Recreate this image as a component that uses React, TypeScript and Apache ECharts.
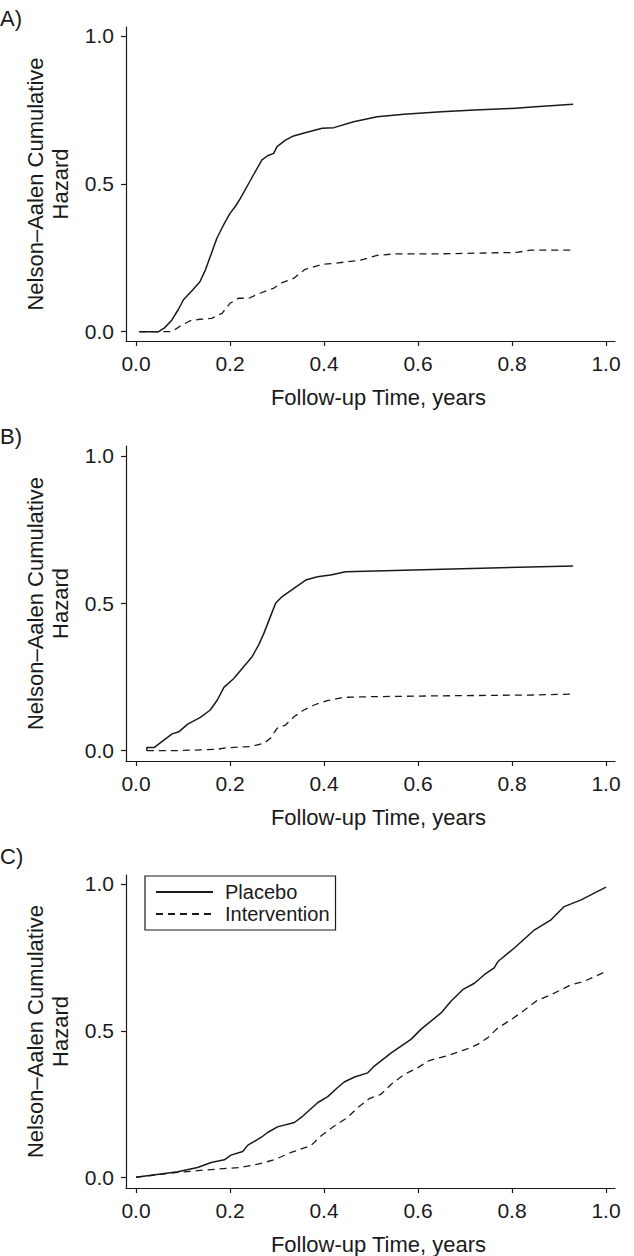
import React, { useEffect, useRef } from "react";
import * as echarts from "echarts";

// ---- data ----
const xTicks = [0, 0.2, 0.4, 0.6, 0.8, 1.0];
const yTicks = [0, 0.5, 1.0];
const panelLabels = ["A)", "B)", "C)"];
const seriesNames = ["Placebo", "Intervention"];

const panelAPlacebo = [
  [0.007, 0], [0.048, 0], [0.06, 0.012], [0.076, 0.039], [0.09, 0.075], [0.101, 0.108],
  [0.12, 0.14], [0.136, 0.169], [0.148, 0.21], [0.158, 0.254], [0.172, 0.316], [0.186, 0.36],
  [0.2, 0.4], [0.212, 0.425], [0.222, 0.451], [0.24, 0.502], [0.255, 0.545], [0.268, 0.581],
  [0.28, 0.595], [0.293, 0.603], [0.3, 0.626], [0.318, 0.648], [0.335, 0.662], [0.36, 0.673],
  [0.396, 0.688], [0.421, 0.69], [0.463, 0.71], [0.513, 0.727], [0.57, 0.735], [0.65, 0.744],
  [0.72, 0.75], [0.8, 0.755], [0.85, 0.761], [0.93, 0.769],
];
const panelAIntervention = [
  [0.007, 0], [0.076, 0], [0.095, 0.02], [0.115, 0.037], [0.136, 0.042], [0.161, 0.045],
  [0.183, 0.062], [0.2, 0.096], [0.218, 0.113], [0.24, 0.113], [0.264, 0.13], [0.293, 0.147],
  [0.311, 0.166], [0.335, 0.18], [0.36, 0.211], [0.396, 0.228], [0.421, 0.231], [0.478, 0.242],
  [0.513, 0.258], [0.549, 0.263], [0.634, 0.263], [0.81, 0.268], [0.84, 0.276], [0.93, 0.276],
];
const panelBPlacebo = [
  [0.023, 0], [0.023, 0.011], [0.039, 0.011], [0.055, 0.031], [0.077, 0.057], [0.091, 0.064],
  [0.11, 0.09], [0.137, 0.113], [0.158, 0.138], [0.173, 0.172], [0.187, 0.215], [0.208, 0.245],
  [0.229, 0.285], [0.247, 0.319], [0.261, 0.359], [0.272, 0.398], [0.283, 0.443], [0.297, 0.5],
  [0.311, 0.523], [0.336, 0.551], [0.361, 0.579], [0.386, 0.59], [0.414, 0.596], [0.446, 0.607],
  [0.93, 0.627],
];
const panelBIntervention = [
  [0.023, 0], [0.087, 0], [0.173, 0.005], [0.194, 0.01], [0.244, 0.014], [0.272, 0.025],
  [0.286, 0.042], [0.3, 0.076], [0.318, 0.087], [0.336, 0.115], [0.357, 0.138], [0.379, 0.155],
  [0.407, 0.17], [0.442, 0.181], [0.492, 0.183], [0.634, 0.186], [0.847, 0.189], [0.93, 0.192],
];
const panelCPlacebo = [
  [0, 0.002], [0.089, 0.02], [0.131, 0.035], [0.16, 0.052], [0.188, 0.061], [0.202, 0.077],
  [0.227, 0.089], [0.238, 0.111], [0.266, 0.137], [0.28, 0.154], [0.301, 0.173], [0.337, 0.188],
  [0.355, 0.21], [0.387, 0.256], [0.408, 0.276], [0.429, 0.307], [0.443, 0.326], [0.465, 0.343],
  [0.493, 0.357], [0.507, 0.38], [0.543, 0.425], [0.585, 0.471], [0.606, 0.505], [0.649, 0.561],
  [0.67, 0.601], [0.695, 0.64], [0.72, 0.662], [0.741, 0.691], [0.762, 0.714], [0.77, 0.736],
  [0.805, 0.782], [0.848, 0.844], [0.883, 0.878], [0.911, 0.923], [0.947, 0.946], [1.0, 0.989],
];
const panelCIntervention = [
  [0, 0.002], [0.089, 0.018], [0.152, 0.027], [0.223, 0.035], [0.259, 0.046], [0.294, 0.061],
  [0.33, 0.086], [0.372, 0.109], [0.394, 0.143], [0.422, 0.176], [0.45, 0.205], [0.472, 0.239],
  [0.496, 0.269], [0.521, 0.284], [0.543, 0.318], [0.571, 0.352], [0.599, 0.374], [0.624, 0.399],
  [0.663, 0.416], [0.702, 0.437], [0.727, 0.454], [0.748, 0.476], [0.77, 0.51], [0.798, 0.538],
  [0.826, 0.57], [0.851, 0.601], [0.883, 0.623], [0.926, 0.657], [0.954, 0.669], [1.0, 0.702],
];

const panels = [
  { placebo: panelAPlacebo, intervention: panelAIntervention },
  { placebo: panelBPlacebo, intervention: panelBIntervention },
  { placebo: panelCPlacebo, intervention: panelCIntervention },
];

// ---- layout / style ----
const FONT = "'Liberation Sans', Arial, Helvetica, sans-serif";
const INK = "#1a1a1a";
const grids = [
  { left: 126, top: 27, width: 489, height: 314, ymin: -0.0315, ymax: 1.0304, labelTop: 7 },
  { left: 126, top: 446, width: 489, height: 315, ymin: -0.035, ymax: 1.0339, labelTop: 425 },
  { left: 126, top: 875, width: 489, height: 314, ymin: -0.035, ymax: 1.0305, labelTop: 845 },
];

export default function App() {
  const ref = useRef<HTMLDivElement>(null);
  useEffect(() => {
    document.body.style.margin = "0";
    if (!ref.current) return;
    const chart = echarts.init(ref.current, null, { renderer: "svg" });
    const axisLine = { onZero: false, lineStyle: { color: INK, width: 1.2 } };
    const axisTickBase = { show: true, inside: false, length: 5, lineStyle: { color: INK, width: 1.2 } };
    const option: any = {
      animation: false,
      backgroundColor: "#ffffff",
      textStyle: { fontFamily: FONT, color: INK },
      grid: grids.map((g) => ({ left: g.left, top: g.top, width: g.width, height: g.height, containLabel: false })),
      xAxis: grids.map((g, i) => ({
        type: "value",
        gridIndex: i,
        min: -0.0213,
        max: 1.0191,
        axisLine,
        axisTick: { ...axisTickBase, customValues: xTicks },
        splitLine: { show: false },
        axisLabel: {
          customValues: xTicks,
          formatter: (v: number) => v.toFixed(1),
          fontSize: 21,
          fontFamily: FONT,
          color: INK,
          margin: 12,
        },
        name: "Follow-up Time, years",
        nameLocation: "middle",
        nameGap: 45,
        nameTextStyle: { fontSize: 22, fontFamily: FONT, color: INK, padding: [0, 0, 0, 16] },
      })),
      yAxis: grids.map((g, i) => ({
        type: "value",
        gridIndex: i,
        min: g.ymin,
        max: g.ymax,
        axisLine,
        axisTick: { ...axisTickBase, customValues: yTicks },
        splitLine: { show: false },
        axisLabel: {
          customValues: yTicks,
          formatter: (v: number) => v.toFixed(1),
          fontSize: 21,
          fontFamily: FONT,
          color: INK,
          margin: 12,
        },
        name: "Nelson\u2013Aalen Cumulative\nHazard",
        nameLocation: "middle",
        nameRotate: 90,
        nameGap: 53,
        nameTextStyle: { fontSize: 22, fontFamily: FONT, color: INK, lineHeight: 25 },
      })),
      legend: {
        data: seriesNames,
        orient: "vertical",
        left: 145,
        top: 876,
        padding: [5, 6, 5, 10],
        itemGap: 0,
        itemWidth: 57,
        itemHeight: 14,
        borderColor: INK,
        borderWidth: 1.2,
        selectedMode: false,
        itemStyle: { opacity: 0, borderWidth: 0 },
        textStyle: { fontSize: 20, fontFamily: FONT, color: INK, lineHeight: 22, padding: [0, 0, 0, 7] },
      },
      graphic: grids.map((g, i) => ({
        type: "text",
        left: 0,
        top: g.labelTop,
        style: { text: panelLabels[i], font: `22px ${FONT}`, fill: INK },
      })),
      series: panels.flatMap((p, i) => [
        {
          name: seriesNames[0],
          type: "line",
          xAxisIndex: i,
          yAxisIndex: i,
          data: p.placebo,
          symbol: "none",
          showSymbol: false,
          color: INK,
          lineStyle: { color: INK, width: 1.5, type: "solid" },
        },
        {
          name: seriesNames[1],
          type: "line",
          xAxisIndex: i,
          yAxisIndex: i,
          data: p.intervention,
          symbol: "none",
          showSymbol: false,
          color: INK,
          lineStyle: { color: INK, width: 1.3, type: [7, 5] },
        },
      ]),
    };
    chart.setOption(option);
    return () => chart.dispose();
  }, []);
  return <div ref={ref} style={{ width: 634, height: 1256 }} />;
}
